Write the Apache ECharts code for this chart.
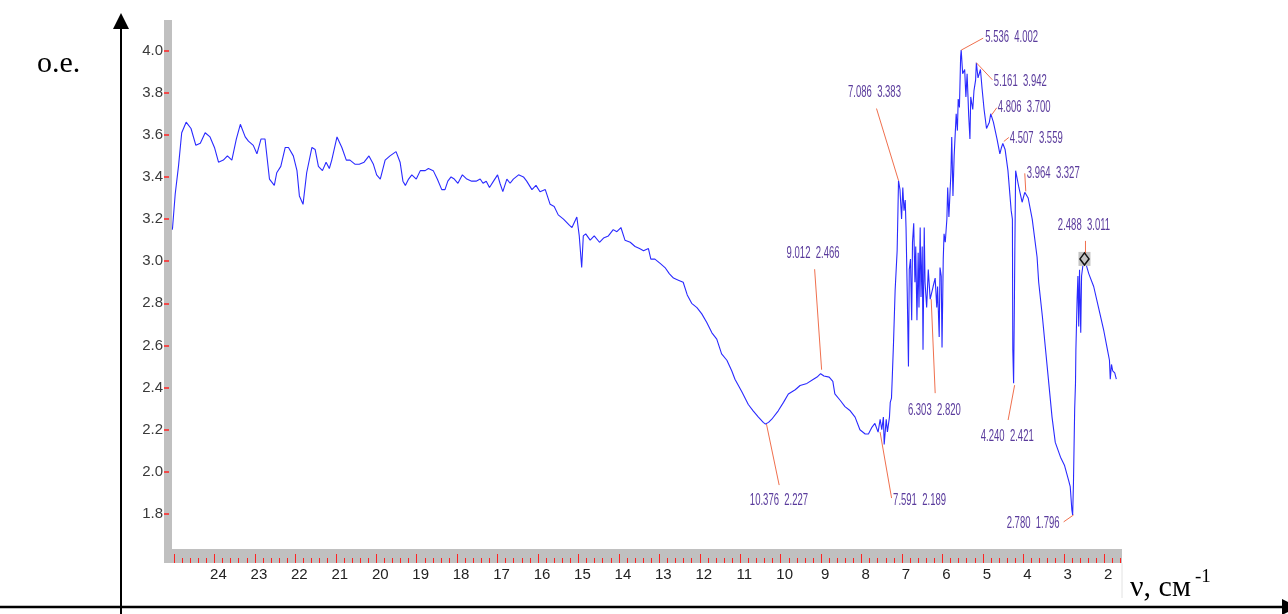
<!DOCTYPE html>
<html>
<head>
<meta charset="utf-8">
<title>ИК-спектр</title>
<script src="https://cdn.jsdelivr.net/npm/echarts@6/dist/echarts.min.js"></script>
<style>
  html, body { margin: 0; padding: 0; background: #ffffff; }
  #chart { width: 1288px; height: 614px; }
</style>
</head>
<body>
<div id="chart"></div>
<script>
// Spectrum: wavenumber (x, in 10^2 cm^-1 units of the axis) and optical density (o.e.)
const waveNumber = [
  25.04, 24.97, 24.89, 24.81, 24.70, 24.58, 24.46, 24.35, 24.23, 24.11,
  24.00, 23.90, 23.78, 23.68, 23.57, 23.46, 23.36, 23.24, 23.16, 23.04,
  22.95, 22.85, 22.75, 22.64, 22.52, 22.46, 22.36, 22.25, 22.17, 22.05,
  21.96, 21.90, 21.81, 21.72, 21.59, 21.51, 21.43, 21.33, 21.24, 21.16,
  21.10, 20.97, 20.85, 20.74, 20.65, 20.52, 20.42, 20.30, 20.18, 20.07,
  19.99, 19.90, 19.78, 19.66, 19.51, 19.41, 19.34, 19.28, 19.20, 19.12,
  19.01, 18.91, 18.79, 18.71, 18.59, 18.49, 18.38, 18.30, 18.23, 18.15,
  18.07, 17.98, 17.87, 17.76, 17.64, 17.53, 17.43, 17.36, 17.28, 17.20,
  17.10, 17.00, 16.94, 16.87, 16.77, 16.69, 16.61, 16.48, 16.36, 16.28,
  16.15, 16.05, 15.95, 15.82, 15.70, 15.60, 15.50, 15.37, 15.22, 15.16,
  15.04, 14.98, 14.92, 14.88, 14.82, 14.71, 14.61, 14.48, 14.38, 14.26,
  14.14, 14.05, 13.95, 13.85, 13.72, 13.60, 13.49, 13.39, 13.27, 13.21,
  13.11, 12.98, 12.86, 12.75, 12.65, 12.53, 12.41, 12.31, 12.20, 12.07,
  11.95, 11.83, 11.70, 11.58, 11.46, 11.33, 11.21, 11.13, 10.96, 10.80,
  10.68, 10.55, 10.43, 10.376, 10.30, 10.22, 10.06, 9.93, 9.81, 9.64,
  9.52, 9.35, 9.19, 9.10, 9.012, 8.93, 8.80, 8.71, 8.66, 8.53,
  8.41, 8.28, 8.16, 8.04, 7.91, 7.83, 7.75, 7.67, 7.591, 7.54,
  7.50, 7.46, 7.44, 7.39, 7.36, 7.31, 7.29, 7.26, 7.24, 7.21,
  7.17, 7.12, 7.10, 7.086, 7.05, 7.01, 6.98, 6.95, 6.92, 6.90,
  6.87, 6.84, 6.82, 6.79, 6.76, 6.74, 6.71, 6.68, 6.66, 6.63,
  6.60, 6.58, 6.55, 6.53, 6.50, 6.48, 6.45, 6.43, 6.39, 6.35,
  6.303, 6.27, 6.23, 6.18, 6.14, 6.12, 6.08, 6.06, 6.03, 6.01,
  5.98, 5.96, 5.93, 5.89, 5.87, 5.84, 5.79, 5.77, 5.74, 5.71,
  5.66, 5.63, 5.61, 5.58, 5.55, 5.536, 5.50, 5.45, 5.42, 5.39,
  5.35, 5.32, 5.30, 5.25, 5.22, 5.18, 5.161, 5.12, 5.06, 5.02,
  4.97, 4.91, 4.84, 4.806, 4.74, 4.65, 4.58, 4.54, 4.507, 4.45,
  4.38, 4.30, 4.27, 4.26, 4.240, 4.22, 4.21, 4.19, 4.11, 4.03,
  3.964, 3.88, 3.78, 3.66, 3.62, 3.53, 3.45, 3.37, 3.29, 3.21,
  3.08, 2.98, 2.88, 2.84, 2.80, 2.780, 2.76, 2.73, 2.71, 2.70,
  2.67, 2.65, 2.63, 2.61, 2.58, 2.56, 2.52, 2.488, 2.38, 2.26,
  2.14, 2.01, 1.93, 1.87, 1.85, 1.82, 1.79, 1.74, 1.70
];
const absorbance = [
  3.15, 3.32, 3.45, 3.61, 3.66, 3.63, 3.55, 3.56, 3.61, 3.59,
  3.54, 3.47, 3.48, 3.50, 3.48, 3.58, 3.65, 3.59, 3.57, 3.55,
  3.51, 3.58, 3.58, 3.39, 3.36, 3.42, 3.45, 3.54, 3.54, 3.50,
  3.43, 3.31, 3.27, 3.42, 3.54, 3.53, 3.45, 3.43, 3.47, 3.44,
  3.48, 3.59, 3.54, 3.48, 3.48, 3.46, 3.46, 3.47, 3.50, 3.46,
  3.41, 3.39, 3.48, 3.50, 3.52, 3.47, 3.38, 3.36, 3.39, 3.41,
  3.39, 3.43, 3.43, 3.44, 3.43, 3.39, 3.34, 3.34, 3.38, 3.40,
  3.39, 3.37, 3.41, 3.39, 3.38, 3.38, 3.39, 3.37, 3.38, 3.35,
  3.38, 3.41, 3.37, 3.33, 3.39, 3.37, 3.39, 3.41, 3.40, 3.38,
  3.34, 3.36, 3.33, 3.34, 3.27, 3.26, 3.22, 3.20, 3.17, 3.16,
  3.21, 3.12, 2.97, 3.12, 3.13, 3.10, 3.12, 3.09, 3.11, 3.12,
  3.15, 3.14, 3.16, 3.10, 3.09, 3.07, 3.06, 3.05, 3.06, 3.01,
  3.01, 2.99, 2.97, 2.94, 2.92, 2.91, 2.90, 2.84, 2.80, 2.78,
  2.75, 2.71, 2.66, 2.63, 2.56, 2.53, 2.48, 2.44, 2.38, 2.32,
  2.29, 2.26, 2.235, 2.227, 2.235, 2.25, 2.29, 2.33, 2.37, 2.39,
  2.41, 2.42, 2.44, 2.45, 2.466, 2.455, 2.45, 2.43, 2.37, 2.34,
  2.31, 2.29, 2.26, 2.20, 2.18, 2.18, 2.21, 2.23, 2.189, 2.25,
  2.20, 2.26, 2.13, 2.25, 2.19, 2.26, 2.33, 2.35, 2.45, 2.61,
  2.86, 3.05, 3.24, 3.383, 3.34, 3.20, 3.35, 3.24, 3.29, 3.16,
  2.85, 2.50, 2.96, 3.01, 2.72, 3.09, 3.18, 2.90, 3.07, 2.72,
  3.04, 2.78, 3.16, 2.83, 3.07, 2.58, 3.16, 2.90, 2.78, 2.96,
  2.820, 2.82, 2.88, 2.92, 2.78, 2.88, 2.64, 2.97, 2.93, 2.59,
  3.01, 3.13, 3.09, 3.20, 3.35, 3.21, 3.42, 3.59, 3.31, 3.50,
  3.70, 3.62, 3.77, 3.73, 3.97, 4.002, 3.89, 3.91, 3.78, 3.89,
  3.69, 3.58, 3.78, 3.72, 3.81, 3.86, 3.942, 3.87, 3.91, 3.82,
  3.72, 3.63, 3.66, 3.700, 3.66, 3.58, 3.51, 3.54, 3.559, 3.53,
  3.43, 3.24, 3.20, 2.58, 2.421, 2.82, 3.05, 3.43, 3.35, 3.28,
  3.327, 3.30, 3.20, 3.02, 2.90, 2.74, 2.58, 2.42, 2.26, 2.14,
  2.07, 2.03, 1.96, 1.93, 1.82, 1.796, 1.95, 2.30, 2.42, 2.58,
  2.82, 2.93, 2.69, 2.96, 2.66, 2.93, 2.99, 3.011, 2.94, 2.88,
  2.78, 2.67, 2.59, 2.53, 2.44, 2.51, 2.48, 2.47, 2.44
];

// Marked peaks (wavenumber, optical density)
const peakNu = [7.086, 5.536, 5.161, 4.806, 4.507, 3.964, 2.488, 9.012, 6.303, 4.240, 10.376, 7.591, 2.780];
const peakOD = [3.383, 4.002, 3.942, 3.700, 3.559, 3.327, 3.011, 2.466, 2.820, 2.421, 2.227, 2.189, 1.796];
const cursorPeak = 2.488;

// Axis ticks
const majorTicks = [25, 24, 23, 22, 21, 20, 19, 18, 17, 16, 15, 14, 13, 12, 11, 10, 9, 8, 7, 6, 5, 4, 3, 2];
const majorLabels = [24, 23, 22, 21, 20, 19, 18, 17, 16, 15, 14, 13, 12, 11, 10, 9, 8, 7, 6, 5, 4, 3, 2];
const yTicks = [1.8, 2.0, 2.2, 2.4, 2.6, 2.8, 3.0, 3.2, 3.4, 3.6, 3.8, 4.0];
const minorTicks = [];
for (let k = 8; k <= 125; k++) { if (k % 5 !== 0) minorTicks.push(+(k * 0.2).toFixed(1)); }

// Label placement for each peak tag: [text dx, text dy, leader x1, y1, x2, y2] in px from the peak
const tagLayout = [
  [-50.5, -88.5, 0, 0, -22, -72],
  [24, -13, 0, 0, 22, -12],
  [17.5, 19, 0, 0, 16, 17],
  [7, -6, 1, 1, 6, -6],
  [7, -5, 1, -2, 6, -6],
  [2, -19, 1, -1, 0, -19],
  [-26.6, -34, 1, -18, 1, -5],
  [-34, -120.5, 1, -4, -6, -104.5],
  [-22.3, 111.5, 1, 0, 5, 94],
  [-32.8, 53.5, 1, 2, -5.5, 36.8],
  [-15.6, 76, 1, 0, 13.7, 61],
  [15, 68, 2, 0, 13.5, 66],
  [-66, 8.4, 1, 0, -9, 7]
];

const narrowFont = "'Liberation Sans Narrow', 'Arial Narrow', 'Liberation Sans', sans-serif";
const tickRed = '#ff2222';
const X_MIN = 1.56, X_MAX = 25.05;
const Y_MIN = 1.634, Y_MAX = 4.145;

const spectrum = waveNumber.map((x, i) => [x, absorbance[i]]);
const peaks = peakNu.map((x, i) => [x, peakOD[i]]);

const chart = echarts.init(document.getElementById('chart'), null, { renderer: 'canvas' });

const baseX = {
  type: 'value', min: X_MIN, max: X_MAX, inverse: true, position: 'bottom',
  offset: 14, z: 4,
  axisLine: { show: false },
  splitLine: { show: false }
};

chart.setOption({
  animation: false,
  backgroundColor: '#ffffff',
  grid: { left: 172, right: 166, top: 20, bottom: 65, containLabel: false },
  xAxis: [
    // long ticks at whole units
    Object.assign({}, baseX, {
      axisTick: { show: true, inside: true, length: 9, customValues: majorTicks,
                  lineStyle: { color: tickRed, width: 1 } },
      axisLabel: { show: false }
    }),
    // short ticks every 0.2
    Object.assign({}, baseX, {
      axisTick: { show: true, inside: true, length: 5, customValues: minorTicks,
                  lineStyle: { color: tickRed, width: 1 } },
      axisLabel: { show: false }
    }),
    // tick labels
    Object.assign({}, baseX, {
      axisTick: { show: false },
      axisLabel: { show: true, customValues: majorLabels, margin: 4, padding: [0, 0, 0, 8],
                   color: '#222', fontSize: 15, fontFamily: narrowFont,
                   formatter: v => String(Math.round(v)) }
    })
  ],
  yAxis: {
    type: 'value', min: Y_MIN, max: Y_MAX, position: 'left', offset: 8, z: 4,
    axisLine: { show: false },
    splitLine: { show: false },
    axisTick: { show: true, inside: true, length: 5, customValues: yTicks,
                lineStyle: { color: tickRed, width: 1.5 } },
    axisLabel: { show: true, customValues: yTicks, margin: 1,
                 color: '#3a3a3a', fontSize: 15, fontFamily: narrowFont,
                 formatter: v => v.toFixed(1) }
  },
  graphic: [
    // grey frame strips of the plotting field
    { type: 'rect', z: 0, shape: { x: 164, y: 20, width: 8, height: 543 }, style: { fill: '#c0c0c0' } },
    { type: 'rect', z: 0, shape: { x: 164, y: 549, width: 958, height: 14 }, style: { fill: '#c0c0c0' } },
    { type: 'line', z: 0, shape: { x1: 1122, y1: 563, x2: 1122, y2: 598 }, style: { stroke: '#e2e2e2', lineWidth: 1 } },
    // outer coordinate arrows
    { type: 'line', z: 1, shape: { x1: 121, y1: 27, x2: 121, y2: 614 }, style: { stroke: '#000', lineWidth: 2 } },
    { type: 'polygon', z: 1, shape: { points: [[113, 29], [121, 13], [129, 29]] }, style: { fill: '#000' } },
    { type: 'line', z: 1, shape: { x1: 0, y1: 607, x2: 1284, y2: 607 }, style: { stroke: '#000', lineWidth: 2.5 } },
    { type: 'polygon', z: 1, shape: { points: [[1282, 599], [1298, 607], [1282, 615]] }, style: { fill: '#000' } },
    // axis titles
    { type: 'text', z: 1, x: 37, y: 79,
      style: { text: 'o.e.', fill: '#000', font: "30px 'Liberation Serif', 'Times New Roman', serif", textVerticalAlign: 'bottom' } },
    { type: 'text', z: 1, x: 1130, y: 603,
      style: { text: 'ν, см', fill: '#000', font: "30px 'Liberation Serif', 'Times New Roman', serif", textVerticalAlign: 'bottom' } },
    { type: 'text', z: 1, x: 1195, y: 587,
      style: { text: '-1', fill: '#000', font: "19px 'Liberation Serif', 'Times New Roman', serif", textVerticalAlign: 'bottom' } }
  ],
  series: [
    {
      type: 'line', name: 'spectrum', xAxisIndex: 0, data: spectrum,
      showSymbol: false, symbol: 'none', sampling: false, z: 2,
      lineStyle: { color: '#2a2aff', width: 1.1 }
    },
    {
      type: 'custom', name: 'peaks', xAxisIndex: 0, data: peaks, z: 5, clip: false,
      encode: { x: 0, y: 1 },
      renderItem: function (params, api) {
        const i = params.dataIndex;
        const nu = api.value(0), od = api.value(1);
        const p = api.coord([nu, od]);
        const o = tagLayout[i];
        const children = [];
        if (nu === cursorPeak) {
          children.push({ type: 'rect', shape: { x: p[0] - 6, y: p[1] - 7, width: 12, height: 14 },
                          style: { fill: '#c4c4c4' } });
        }
        children.push({
          type: 'line',
          shape: { x1: p[0] + o[2], y1: p[1] + o[3], x2: p[0] + o[4], y2: p[1] + o[5] },
          style: { stroke: '#f0704e', lineWidth: 1 }
        });
        if (nu === cursorPeak) {
          children.push({ type: 'polygon',
                          shape: { points: [[p[0], p[1] - 6], [p[0] + 4.5, p[1]], [p[0], p[1] + 6], [p[0] - 4.5, p[1]]] },
                          style: { fill: 'none', stroke: '#111', lineWidth: 1.5 } });
        }
        children.push({
          type: 'text', x: p[0] + o[0], y: p[1] + o[1], scaleX: 0.56,
          style: { text: nu.toFixed(3) + '  ' + od.toFixed(3), fill: '#5a3b9c',
                   font: "17px 'Liberation Sans', Arial, sans-serif",
                   align: 'left', verticalAlign: 'middle' }
        });
        return { type: 'group', children: children };
      }
    }
  ]
});
</script>
</body>
</html>
